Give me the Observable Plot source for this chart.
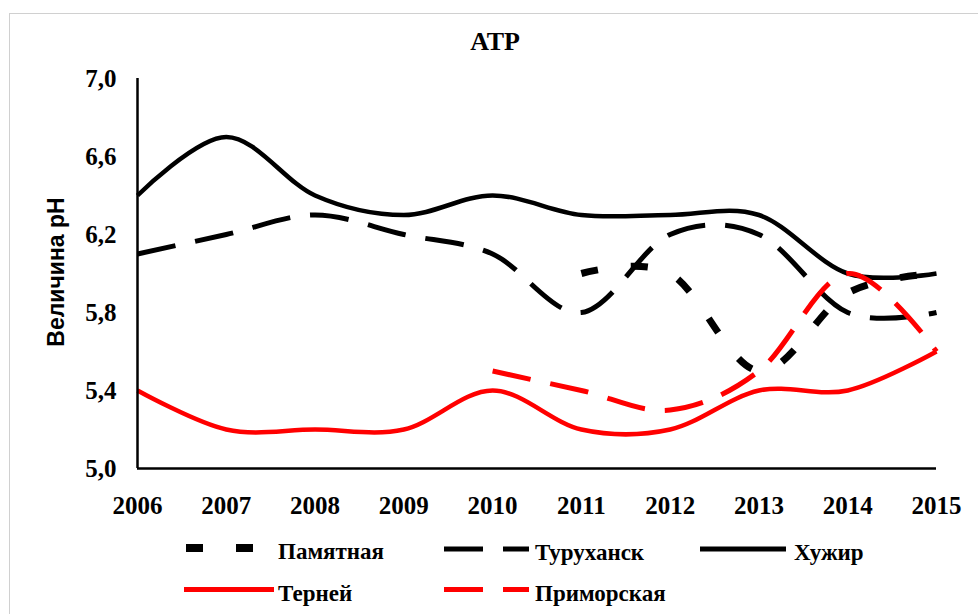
<!DOCTYPE html>
<html><head><meta charset="utf-8">
<script src="https://cdn.jsdelivr.net/npm/d3@7"></script>
<script src="https://cdn.jsdelivr.net/npm/@observablehq/plot@0.6"></script>
<style>
body{margin:0;background:#fff;}
#wrap{position:relative;width:978px;height:614px;overflow:hidden;background:#fff;}
#frame{position:absolute;left:9px;top:13px;width:1000px;height:700px;border:1.5px solid #d0d0d0;box-sizing:border-box}
#chart{position:absolute;left:0;top:0}
#overlay{position:absolute;left:0;top:0;pointer-events:none}
</style>
</head><body>
<div id="wrap"><div id="frame"></div><div id="chart"></div><svg id="overlay" width="978" height="614"></svg></div>
<script>
const years = [2006, 2007, 2008, 2009, 2010, 2011, 2012, 2013, 2014, 2015];
const pamyatnaya  = [null, null, null, null, null, 6.0, 6.0, 5.5, 5.9, 6.0];
const turukhansk  = [6.1, 6.2, 6.3, 6.2, 6.1, 5.8, 6.2, 6.2, 5.8, 5.8];
const khuzhir     = [6.4, 6.7, 6.4, 6.3, 6.4, 6.3, 6.3, 6.3, 6.0, 6.0];
const terney      = [5.4, 5.2, 5.2, 5.2, 5.4, 5.2, 5.2, 5.4, 5.4, 5.6];
const primorskaya = [null, null, null, null, 5.5, 5.4, 5.3, 5.5, 6.0, 5.6];
const seriesNames = ["Памятная", "Туруханск", "Хужир", "Терней", "Приморская"];
const seriesValues = [pamyatnaya, turukhansk, khuzhir, terney, primorskaya];
const yTicks = [5.0, 5.4, 5.8, 6.2, 6.6, 7.0];
const titleText = "АТР";
const yLabel = "Величина pH";

const styles = {
  "Памятная":   {stroke: "#000", width: 7, dash: "17,33"},
  "Туруханск":  {stroke: "#000", width: 5, dash: "39,20"},
  "Хужир":      {stroke: "#000", width: 4.5, dash: null},
  "Терней":     {stroke: "#ff0000", width: 4.5, dash: null},
  "Приморская": {stroke: "#ff0000", width: 5, dash: "39,20"}
};

const rows = [];
seriesNames.forEach((name, i) => seriesValues[i].forEach((v, j) => {
  if (v != null) rows.push({series: name, year: years[j], value: v});
}));

const lineMarks = seriesNames.map(name => {
  const s = styles[name];
  const o = {x: "year", y: "value", stroke: s.stroke, strokeWidth: s.width, curve: "cardinal", strokeLinecap: "butt", strokeLinejoin: "round"};
  if (s.dash) o.strokeDasharray = s.dash;
  return Plot.line(rows.filter(d => d.series === name), o);
});

const chart = Plot.plot({
  width: 978, height: 530,
  marginTop: 78, marginBottom: 62, marginLeft: 137, marginRight: 42,
  style: {fontFamily: "Liberation Serif", fontSize: "25px", fontWeight: "bold", color: "black", background: "transparent", overflow: "visible"},
  x: {domain: [2006, 2015], ticks: years, tickFormat: d => String(d), tickSize: 0, tickPadding: 28, label: null},
  y: {domain: [5, 7], ticks: yTicks, tickFormat: d => d.toFixed(1).replace(".", ","), tickSize: 0, tickPadding: 21, label: null},
  marks: [
    ...lineMarks,
    Plot.ruleY([5], {stroke: "black", strokeWidth: 2.5}),
    Plot.ruleX([2006], {stroke: "black", strokeWidth: 2.5})
  ]
});
document.getElementById("chart").appendChild(chart);

const ov = d3.select("#overlay");
ov.append("text").attr("x", 495).attr("y", 50).attr("text-anchor", "middle")
  .style("font", "bold 26px 'Liberation Serif'").text(titleText);
ov.append("text").attr("transform", "translate(64,272) rotate(-90)").attr("text-anchor", "middle")
  .style("font", "bold 23px 'Liberation Sans'").text(yLabel);

const legendPos = [
  {sx: 186, ex: 276, tx: 278, y: 548},
  {sx: 444, ex: 529, tx: 535, y: 549},
  {sx: 700, ex: 786, tx: 794, y: 549},
  {sx: 184, ex: 274, tx: 278, y: 589.5},
  {sx: 444, ex: 529, tx: 535, y: 589.5}
];
seriesNames.forEach((name, i) => {
  const s = styles[name], p = legendPos[i];
  const ln = ov.append("line").attr("x1", p.sx).attr("x2", p.ex).attr("y1", p.y).attr("y2", p.y)
    .attr("stroke", s.stroke).attr("stroke-width", name === "Памятная" ? 8 : 5);
  if (s.dash) ln.attr("stroke-dasharray", s.dash);
  ov.append("text").attr("x", p.tx).attr("y", p.y + 11)
    .style("font", "bold 23px 'Liberation Serif'").text(name);
});
</script>
</body></html>
